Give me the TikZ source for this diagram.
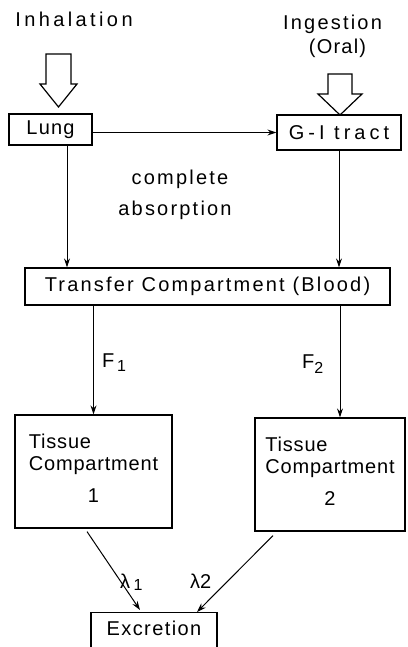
\documentclass[tikz,border=0pt]{standalone}
\usepackage{fontspec}
\setmainfont{Liberation Sans}
\usetikzlibrary{calc,arrows.meta}
\begin{document}
\begin{tikzpicture}[x=1pt,y=-1pt,
  every node/.style={inner sep=0pt, font=\fontsize{20}{22}\selectfont},
  ls/.style={font=\fontsize{20}{22}\selectfont\addfontfeature{LetterSpace=#1}},
  box/.style={draw, line width=1.2pt},
  arr/.style={line width=1pt, -{Stealth[length=9pt,width=6pt]}},
  blk/.style={draw, line width=1.2pt, fill=white, line join=miter}
]
\useasboundingbox (0,0) rectangle (407,647);
\clip (0,0) rectangle (407,647);

% boxes
\node[box, ls=6, minimum width=83pt, minimum height=31pt] (lung) at (50.5,129.5) {Lung};
\node[box, ls=20, minimum width=124pt, minimum height=35pt] (gi) at (339,132.5) {G-I tract};
\node[box, ls=11, minimum width=365pt, minimum height=37pt] (tr) at (207.5,286.5) {Transfer Compartment (Blood)};
\node[box, ls=4, minimum width=157pt, minimum height=113pt] (t1) at (93.5,471.5)
  {\begin{tabular}{@{}l@{}}Tissue\\Compartment\\[10pt]\multicolumn{1}{@{}c@{}}{1}\end{tabular}};
\node[box, ls=4, minimum width=150pt, minimum height=113pt] (t2) at (330,474.5)
  {\begin{tabular}{@{}l@{}}Tissue\\Compartment\\[10pt]\multicolumn{1}{@{}c@{}}{2}\end{tabular}};
\node[box, ls=7, minimum width=126pt, text height=23pt, text depth=30pt, anchor=north] (ex) at (154,612) {Excretion};

% labels
\node[ls=17, anchor=base] (inh) at (74,27) {Inhalation};
\node[ls=11, anchor=base] (ing) at (332.5,30) {Ingestion};
\node[ls=6, anchor=base] (oral) at (337.5,54) {(Oral)};
\node[ls=11, anchor=base] (c1) at (180,185) {complete};
\node[ls=11, anchor=base] (c2) at (175,215) {absorption};
\node[anchor=base west] (f1) at (102,367) {F\raisebox{-4pt}{\fontsize{16}{16}\selectfont\,1}};
\node[anchor=base west] (f2) at (302,368) {F\raisebox{-5pt}{\fontsize{16}{16}\selectfont 2}};
\node[anchor=base west] (l1) at (120,588) {λ\raisebox{-2pt}{\,\fontsize{16}{16}\selectfont 1}};
\node[anchor=base west] (l2) at (190,588) {λ2};

% block arrows
\draw[blk] (46,54) -- (71,54) -- (71,84) -- (77,84) -- (58.5,107) -- (40,84) -- (46,84) -- cycle;
\draw[blk] (328,74) -- (352,74) -- (352,94) -- (362,94) -- (340,115) -- (318,94) -- (328,94) -- cycle;

% connectors
\draw[arr] (lung.east |- gi.west) -- (gi.west);
\coordinate (la) at ($(lung.south)+(16.5,0)$);
\draw[arr] (la) -- (la |- tr.north);
\draw[arr] (gi.south) -- (gi.south |- tr.north);
\draw[arr] (t1.north |- tr.south) -- (t1.north);
\coordinate (fb) at ($(t2.north)+(10,0)$);
\draw[arr] (fb |- tr.south) -- (fb);
\draw[arr] ($(t1.south)+(-6.5,3)$) -- ($(ex.north)+(-14,-2)$);
\draw[arr] ($(t2.south)+(-57,4)$) -- ($(ex.north)+(43,0)$);
\end{tikzpicture}
\end{document}
